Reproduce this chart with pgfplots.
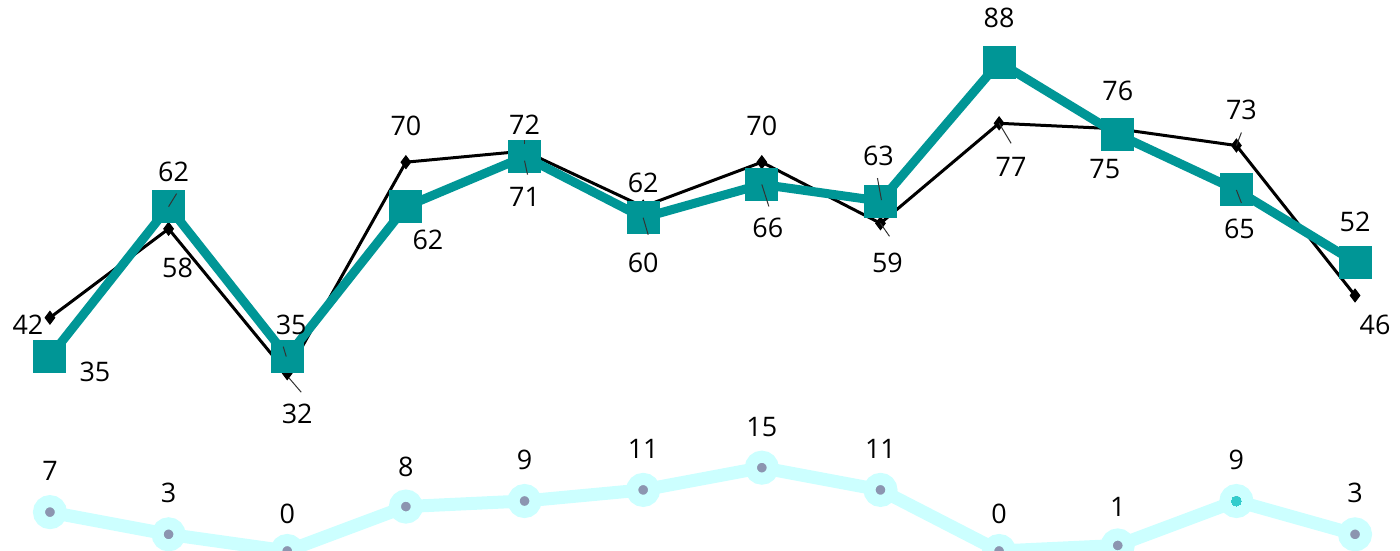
\documentclass[border=0pt]{standalone}
\usepackage{pgfplots}
\pgfplotsset{compat=1.18}
\usepackage{pgfplotstable}
\usepackage{fontspec}
\setmainfont{Open Sans}
\definecolor{tealline}{RGB}{0,150,150}
\definecolor{cyanlight}{RGB}{204,255,255}
\definecolor{dotgray}{RGB}{140,149,176}
\definecolor{dotcyan}{RGB}{51,204,204}

\pgfplotsset{
    lbl/.style={
        nodes near coords={\pgfmathprintnumber[assume math mode=true]{\pgfplotspointmeta}},
        visualization depends on={\thisrow{dx} \as \ldx},
        visualization depends on={\thisrow{dy} \as \ldy},
        every node near coord/.append style={anchor=center, xshift=\ldx bp,
            yshift=\ldy bp, text=black, font=\fontsize{13.5}{16}\selectfont,
            inner sep=0pt},
    },
}

% x y and label offset (bp)
\pgfplotstableread{
x y dx dy
0 42 -11 -3.5
1 58 4.5 -19.5
2 32 5 -20.5
3 70 0 18
4 72 0 13
5 62 0 12
6 70 0 18
7 59 3.5 -20
8 77 6 -22
9 76 0 19
10 73 2.5 18
11 46 10 -14.5
}\blackdata

\pgfplotstableread{
x y dx dy
0 35 22.5 -7.5
1 62 2.5 17.5
2 35 2 16
3 62 11 -16.5
4 71 0 -20
5 60 0 -22.5
6 66 3 -21.5
7 63 -1 22.5
8 88 0 22
9 75 -6.5 -17.5
10 65 1.5 -19.5
11 52 0 20
}\tealdata

\pgfplotstableread{
x y dx dy
0 7 0 20.5
1 3 0 20.5
2 0 0 18.5
3 8 0 20
4 9 0 20.5
5 11 0 20.5
6 15 0 20.5
7 11 0 20.5
8 0 0 18.5
9 1 0 19.5
10 9 0 20.5
11 3 0 20.5
}\cyandata

\begin{document}
\begin{tikzpicture}[leader/.style={black!80, line width=0.5bp}]
\begin{axis}[
    scale only axis,
    width=700bp, height=275.5bp,
    xmin=-0.421, xmax=11.379,
    ymin=0, ymax=99.2,
    axis line style={draw=none},
    xtick=\empty, ytick=\empty,
    clip=true,
    clip marker paths=true,
]
\addplot[cyanlight, line width=6.5bp, mark=*, mark size=5.5bp,
    mark options={draw=cyanlight, fill=dotgray, line width=6bp}, lbl]
    table[x=x, y=y] {\cyandata};
\addplot[dotcyan, only marks, mark=*, mark size=2.5bp,
    mark options={fill=dotcyan, draw=dotcyan, line width=0pt}]
    coordinates {(10,9)};
\addplot[black, line width=1.5bp, mark=diamond*, mark size=3.2bp,
    mark options={fill=black, line width=0.5bp}, lbl]
    table[x=x, y=y] {\blackdata};
\addplot[tealline, line width=4.5bp, mark=square*, mark size=6bp,
    mark options={fill=tealline, draw=none}, lbl]
    table[x=x, y=y] {\tealdata};
% leader lines of the data labels
\draw[leader] ([shift={(1bp,-2.5bp)}]axis cs:2,32) -- ++(6bp,-7bp);
\draw[leader] ([shift={(-2bp,5bp)}]axis cs:2,35) -- ++(1.5bp,-5bp);
\draw[leader] (axis cs:1,62) -- ++(4bp,6.5bp);
\draw[leader] ([shift={(0bp,3.5bp)}]axis cs:4,72) -- ++(0bp,2bp);
\draw[leader] ([shift={(0bp,-2bp)}]axis cs:4,71) -- ++(1.5bp,-7bp);
\draw[leader] (axis cs:5,60) -- ++(2.5bp,-8.5bp);
\draw[leader] (axis cs:6,66) -- ++(3.5bp,-11bp);
\draw[leader] ([shift={(-1.5bp,11.5bp)}]axis cs:7,63) -- ++(2bp,-11bp);
\draw[leader] (axis cs:7,59) -- ++(4.5bp,-6.5bp);
\draw[leader] (axis cs:8,77) -- ++(6bp,-10bp);
\draw[leader] (axis cs:10,73) -- ++(2.5bp,6.5bp);
\draw[leader] (axis cs:10,65) -- ++(2.5bp,-6.5bp);
\end{axis}
\end{tikzpicture}
\end{document}
